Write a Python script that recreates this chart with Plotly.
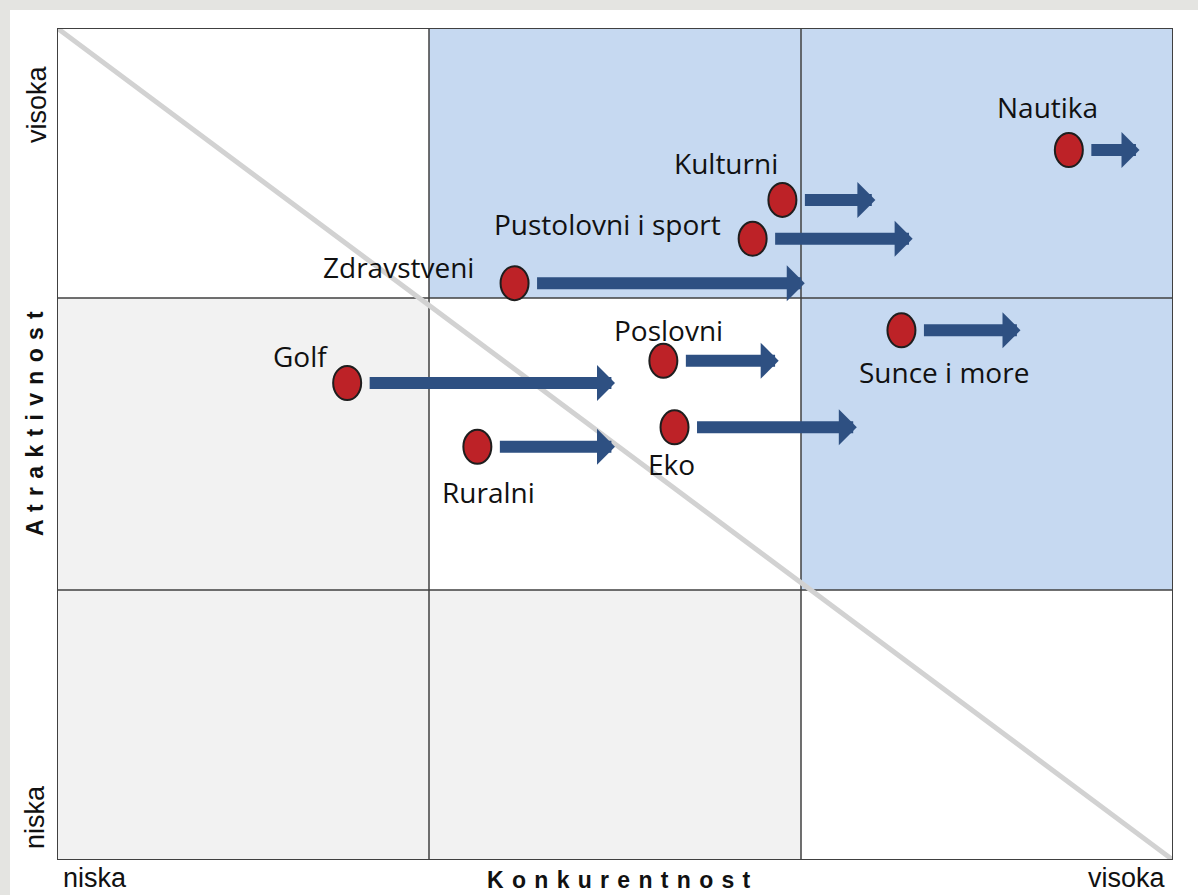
import plotly.graph_objects as go

# ---------------- data ----------------
categories = ["Nautika", "Kulturni", "Pustolovni i sport", "Zdravstveni", "Poslovni",
              "Sunce i more", "Golf", "Eko", "Ruralni"]
konkurentnost_sada = [2.72, 1.95, 1.87, 1.23, 1.63, 2.27, 0.78, 1.66, 1.13]
konkurentnost_cilj = [2.91, 2.20, 2.30, 2.01, 1.94, 2.59, 1.50, 2.15, 1.50]
atraktivnost = [2.56, 2.38, 2.24, 2.08, 1.80, 1.91, 1.72, 1.56, 1.49]

col_edges = [0, 1, 2, 3]
row_edges = [0, 0.974, 2.026, 3]
# cell type per row (bottom -> top), per column (left -> right)
cell_kind = [["low", "low", "none"],
             ["low", "none", "high"],
             ["none", "high", "high"]]

x_axis_title = "Konkurentnost"
y_axis_title = "Atraktivnost"
low_label = "niska"
high_label = "visoka"

# ---------------- styles ----------------
W, H = 1198, 895
ML, MR, MT, MB = 57, 25, 28, 35
PX_PER_X = (W - ML - MR) / 3.0
cell_colors = {"low": "#f2f2f2", "none": "#ffffff", "high": "#c6d9f1"}
dot_color = "#bd2227"
arrow_color = "#2e5082"
grid_color = "#404040"
label_font = dict(family="Open Sans, Lato, sans-serif", size=28, color="#111111")
axis_font = dict(family="Arial, Liberation Sans, sans-serif", size=27, color="#111111")
title_font = dict(family="Arial, Liberation Sans, sans-serif", size=23, color="#111111")
# label offsets in pixels from the dot centre (dx right, dy up)
label_offsets = {
    "Nautika": (-21, 43), "Kulturni": (-56, 37), "Pustolovni i sport": (-145, 15),
    "Zdravstveni": (-116, 16), "Poslovni": (5, 31), "Sunce i more": (43, -42),
    "Golf": (-47, 27), "Eko": (-3, -37), "Ruralni": (11, -45),
}
arrow_gap_px = 21

fig = go.Figure()

shapes = []
# white panel over textured background
shapes.append(dict(type="rect", xref="paper", yref="paper",
                   x0=(10 - ML) / (W - ML - MR), x1=(W - ML) / (W - ML - MR),
                   y0=-(MB) / (H - MT - MB), y1=(H - MB - 10) / (H - MT - MB),
                   fillcolor="white", line=dict(width=0), layer="below"))
# cells
for r in range(3):
    for c in range(3):
        shapes.append(dict(type="rect", xref="x", yref="y",
                           x0=col_edges[c], x1=col_edges[c + 1],
                           y0=row_edges[r], y1=row_edges[r + 1],
                           fillcolor=cell_colors[cell_kind[r][c]],
                           line=dict(width=0), layer="below"))
# grid lines
for xv in col_edges[1:-1]:
    shapes.append(dict(type="line", xref="x", yref="y", x0=xv, x1=xv,
                       y0=row_edges[0], y1=row_edges[-1],
                       line=dict(color=grid_color, width=1.5), layer="below"))
for yv in row_edges[1:-1]:
    shapes.append(dict(type="line", xref="x", yref="y", y0=yv, y1=yv,
                       x0=col_edges[0], x1=col_edges[-1],
                       line=dict(color=grid_color, width=1.5), layer="below"))
# diagonal
shapes.append(dict(type="line", xref="x", yref="y",
                   x0=col_edges[0], y0=row_edges[-1], x1=col_edges[-1], y1=row_edges[0],
                   line=dict(color="#d2d2d2", width=5), layer="below"))
# border
shapes.append(dict(type="rect", xref="x", yref="y",
                   x0=col_edges[0], x1=col_edges[-1], y0=row_edges[0], y1=row_edges[-1],
                   line=dict(color=grid_color, width=2), layer="below"))
# dots (ellipses)
for cat, xv, yv in zip(categories, konkurentnost_sada, atraktivnost):
    shapes.append(dict(type="circle", xref="x", yref="y",
                       xsizemode="pixel", ysizemode="pixel",
                       xanchor=xv, yanchor=yv, x0=-14, x1=14, y0=-17, y1=17,
                       fillcolor=dot_color, line=dict(color="#1e1e1e", width=2),
                       layer="above"))

annotations = []
for cat, xv, xe, yv in zip(categories, konkurentnost_sada, konkurentnost_cilj, atraktivnost):
    annotations.append(dict(x=xe, y=yv, ax=xv + arrow_gap_px / PX_PER_X, ay=yv,
                            xref="x", yref="y", axref="x", ayref="y",
                            text="", showarrow=True, arrowhead=1, arrowsize=0.5,
                            arrowwidth=12, arrowcolor=arrow_color,
                            standoff=0, startstandoff=0))
    dx, dy = label_offsets[cat]
    annotations.append(dict(x=xv, y=yv, xref="x", yref="y", text=cat,
                            showarrow=False, xshift=dx, yshift=dy,
                            xanchor="center", yanchor="middle", font=label_font))

pw, ph = W - ML - MR, H - MT - MB
def px_to_paper(px, py):
    return (px - ML) / pw, (H - MB - py) / ph

for txt, (px, py), ang, fnt in [
    (high_label, (37, 104), -90, axis_font),
    (low_label, (35, 817), -90, axis_font),
    (low_label, (95, 878), 0, axis_font),
    (high_label, (1127, 878), 0, axis_font),
]:
    xp, yp = px_to_paper(px, py)
    annotations.append(dict(x=xp, y=yp, xref="paper", yref="paper", text=txt,
                            showarrow=False, textangle=ang, font=fnt,
                            xanchor="center", yanchor="middle"))

spaced = lambda s: "<b>" + " \u200a".join(list(s)) + "</b>"
xp, yp = px_to_paper(619, 880)
annotations.append(dict(x=xp, y=yp, xref="paper", yref="paper", text=spaced(x_axis_title),
                        showarrow=False, font=title_font, xanchor="center", yanchor="middle"))
xp, yp = px_to_paper(35, 424)
annotations.append(dict(x=xp, y=yp, xref="paper", yref="paper", text=spaced(y_axis_title),
                        showarrow=False, textangle=-90, font=title_font,
                        xanchor="center", yanchor="middle"))

fig.update_layout(
    width=W, height=H, autosize=False,
    margin=dict(l=ML, r=MR, t=MT, b=MB, pad=0),
    paper_bgcolor="#e4e4e1", plot_bgcolor="white",
    shapes=shapes, annotations=annotations, showlegend=False,
    xaxis=dict(range=[col_edges[0], col_edges[-1]], visible=False, fixedrange=True),
    yaxis=dict(range=[row_edges[0], row_edges[-1]], visible=False, fixedrange=True),
)

fig.write_html("out.html", config={"displayModeBar": False},
               post_script="document.body.style.margin='0';")
